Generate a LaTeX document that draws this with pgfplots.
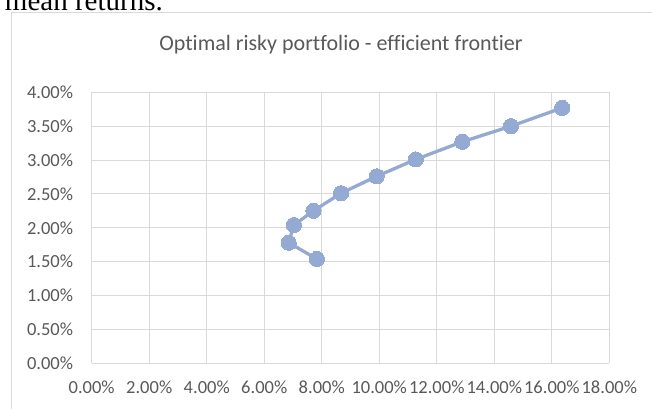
\documentclass[border=0pt]{standalone}
\usepackage{fontspec}
\setmainfont[Ligatures={NoCommon}]{Carlito}
\newfontfamily\seriffont{Liberation Serif}
\usepackage{pgfplots}
\pgfplotsset{compat=1.18}
\definecolor{ser}{RGB}{148,170,210}
\definecolor{gridc}{RGB}{217,217,217}
\definecolor{txt}{RGB}{89,89,89}
\begin{document}
\begin{tikzpicture}[x=1pt,y=1pt]
\useasboundingbox (0,0) rectangle (652,408);
\clip (0,0) rectangle (652,408);
% partial document text above the chart
\node[anchor=base east, inner sep=0pt, font=\seriffont\fontsize{29}{30}\selectfont] at (163,397.3) {mean returns.};
% chart frame
\draw[gridc, line width=1pt] (11,-20) -- (11,395.3) -- (700,395.3);
% title
\node[anchor=base, inner sep=0pt, text=txt, font=\fontsize{22}{24}\selectfont] at (341,357) {Optimal risky portfolio - efficient frontier};
\begin{axis}[
  at={(91.7pt,44.7pt)}, anchor=south west,
  scale only axis, width=517.6pt, height=271pt,
  xmin=0, xmax=18, ymin=0, ymax=4,
  xtick={0,2,...,18}, ytick={0,0.5,...,4},
  grid=major,
  major grid style={gridc, line width=1pt},
  axis line style={draw=none},
  major tick length=0pt,
  /pgf/number format/assume math mode=true,
  xticklabel={\pgfmathprintnumber[fixed,fixed zerofill,precision=2]{\tick}\%},
  yticklabel={\pgfmathprintnumber[fixed,fixed zerofill,precision=2]{\tick}\%},
  x tick label style={anchor=base, inner sep=0pt, yshift=-30pt, text=txt, font=\fontsize{18.5}{20}\selectfont},
  y tick label style={anchor=east, inner sep=0pt, xshift=-18.4pt, text=txt, font=\fontsize{18.5}{20}\selectfont},
]
\addplot[color=ser, line width=3.3pt, mark=*, mark size=7.6pt, mark options={solid, fill=ser, draw=ser, line width=0pt}]
coordinates {
(7.83,1.54)
(6.85,1.78)
(7.03,2.04)
(7.71,2.25)
(8.67,2.51)
(9.91,2.76)
(11.27,3.01)
(12.89,3.27)
(14.58,3.50)
(16.36,3.77)
};
\end{axis}
\end{tikzpicture}
\end{document}
